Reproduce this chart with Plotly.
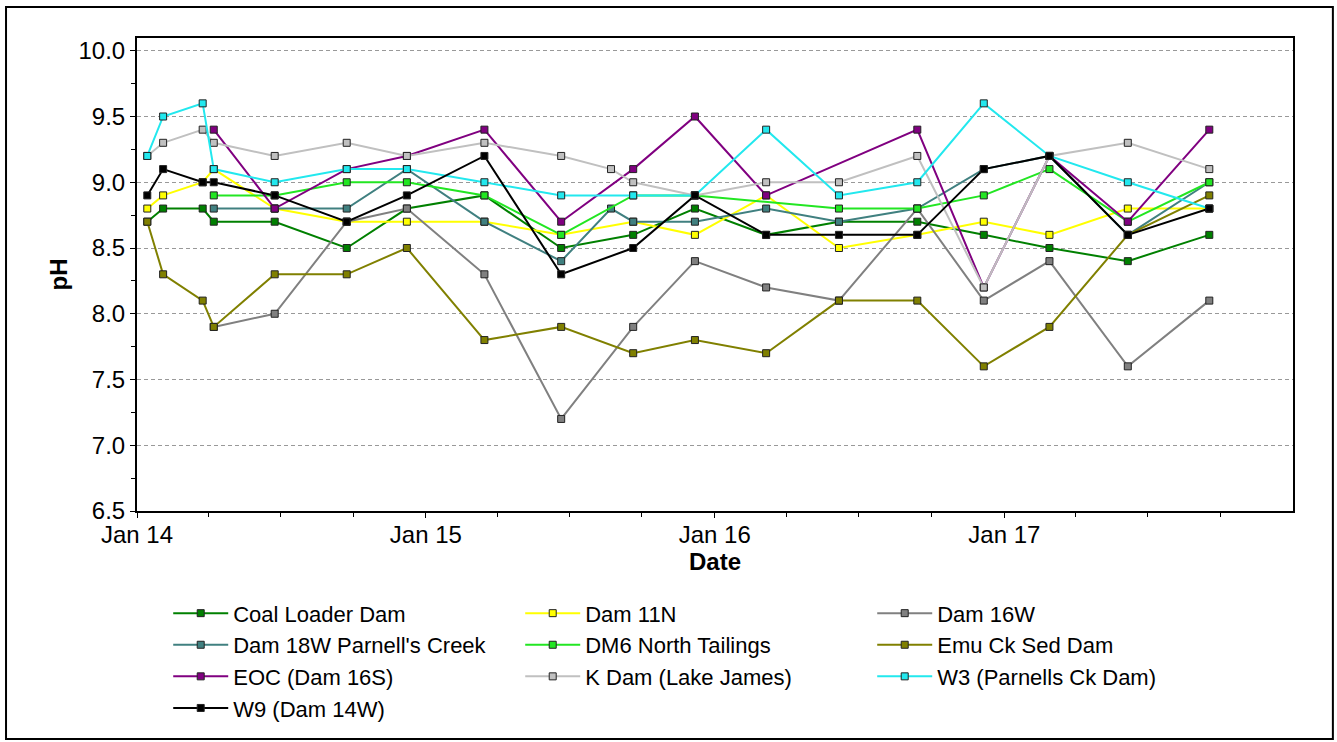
import plotly.graph_objects as go

# Sample dates (shared); None = no sample for that series on that date
dates = ['2014-01-14', '2014-02-03', '2014-03-25', '2014-04-08', '2014-06-24',
         '2014-09-23', '2014-12-08', '2015-03-16', '2015-06-21', '2015-08-23',
         '2015-09-20', '2015-12-07', '2016-03-06', '2016-06-06', '2016-09-13',
         '2016-12-06', '2017-02-27', '2017-06-06', '2017-09-17']

coal_loader = [8.7, 8.8, 8.8, 8.7, 8.7, 8.5, 8.8, 8.9, 8.5, None, 8.6, 8.8, 8.6, 8.7, 8.7, 8.6, 8.5, 8.4, 8.6]
dam_11n = [8.8, 8.9, 9.0, 9.1, 8.8, 8.7, 8.7, 8.7, 8.6, None, 8.7, 8.6, 8.9, 8.5, 8.6, 8.7, 8.6, 8.8, 8.8]
dam_16w = [None, None, None, 7.9, 8.0, 8.7, 8.8, 8.3, 7.2, None, 7.9, 8.4, 8.2, 8.1, 8.8, 8.1, 8.4, 7.6, 8.1]
dam_18w = [None, None, None, 8.8, 8.8, 8.8, 9.1, 8.7, 8.4, 8.8, 8.7, 8.7, 8.8, 8.7, 8.8, 9.1, 9.2, 8.6, 9.0]
dm6 = [None, None, None, 8.9, 8.9, 9.0, 9.0, 8.9, 8.6, None, 8.9, 8.9, None, 8.8, 8.8, 8.9, 9.1, 8.7, 9.0]
emu_ck = [8.7, 8.3, 8.1, 7.9, 8.3, 8.3, 8.5, 7.8, 7.9, None, 7.7, 7.8, 7.7, 8.1, 8.1, 7.6, 7.9, 8.6, 8.9]
eoc = [None, None, None, 9.4, 8.8, 9.1, 9.2, 9.4, 8.7, None, 9.1, 9.5, 8.9, None, 9.4, 8.2, 9.2, 8.7, 9.4]
k_dam = [9.2, 9.3, 9.4, 9.3, 9.2, 9.3, 9.2, 9.3, 9.2, 9.1, 9.0, 8.9, 9.0, 9.0, 9.2, 8.2, 9.2, 9.3, 9.1]
w3 = [9.2, 9.5, 9.6, 9.1, 9.0, 9.1, 9.1, 9.0, 8.9, None, 8.9, 8.9, 9.4, 8.9, 9.0, 9.6, 9.2, 9.0, 8.8]
w9 = [8.9, 9.1, 9.0, 9.0, 8.9, 8.7, 8.9, 9.2, 8.3, None, 8.5, 8.9, 8.6, 8.6, 8.6, 9.1, 9.2, 8.6, 8.8]

series_names = ['Coal Loader Dam', 'Dam 11N', 'Dam 16W', "Dam 18W Parnell's Creek",
                'DM6 North Tailings', 'Emu Ck Sed Dam', 'EOC (Dam 16S)',
                'K Dam (Lake James)', 'W3 (Parnells Ck Dam)', 'W9 (Dam 14W)']
series_values = [coal_loader, dam_11n, dam_16w, dam_18w, dm6, emu_ck, eoc, k_dam, w3, w9]
series_colors = ['#008000', '#FFFF00', '#808080', '#408080', '#22E622',
                 '#808000', '#800080', '#C0C0C0', '#22E8EE', '#000000']
year_ticks = ['2014-01-01', '2015-01-01', '2016-01-01', '2017-01-01']

FONT = 'Arial, Liberation Sans, sans-serif'

fig = go.Figure()
for name, vals, col in zip(series_names, series_values, series_colors):
    fig.add_trace(go.Scatter(
        x=dates, y=vals, name=name, mode='lines+markers', connectgaps=True,
        line=dict(color=col, width=2),
        marker=dict(symbol='square', size=7, color=col, line=dict(color='#222222', width=1)),
    ))

fig.update_layout(
    width=1337, height=742,
    margin=dict(l=137, r=44, t=38, b=231),
    paper_bgcolor='white', plot_bgcolor='white',
    font=dict(family=FONT, size=24, color='black'),
    showlegend=True,
    legend=dict(
        orientation='h', x=0.027, xanchor='left', y=-0.172, yanchor='top',
        entrywidth=282, entrywidthmode='pixels', itemwidth=55,
        font=dict(family=FONT, size=22, color='black'),
        bgcolor='rgba(0,0,0,0)', tracegroupgap=0,
    ),
    shapes=[dict(type='rect', xref='paper', yref='paper',
                 x0=-0.1133, x1=1.0345, y0=-0.482, y1=1.0655,
                 line=dict(color='black', width=2), fillcolor='rgba(0,0,0,0)', layer='below')],
)

fig.update_xaxes(
    type='date', range=['2014-01-01', '2017-12-31 18:00'],
    tickvals=year_ticks, tickformat='%b %y',
    ticks='outside', ticklen=5, tickcolor='black', tickwidth=1,
    ticklabelstandoff=-4,
    minor=dict(dtick='M3', tick0='2014-01-01', ticks='outside', ticklen=4, tickcolor='black', showgrid=False),
    showgrid=False, zeroline=False,
    showline=True, linecolor='black', linewidth=2, mirror=True,
    title=dict(text='<b>Date</b>', font=dict(family=FONT, size=24), standoff=6),
    tickfont=dict(family=FONT, size=24),
)
fig.update_yaxes(
    range=[6.5, 10.097], dtick=0.5, tick0=6.5, tickformat='.1f',
    ticks='outside', ticklen=5, tickcolor='black', tickwidth=1,
    minor=dict(dtick=0.25, ticks='outside', ticklen=4, tickcolor='black', showgrid=False),
    showgrid=True, gridcolor='#999999', gridwidth=1, griddash='4px,3px',
    zeroline=False,
    showline=True, linecolor='black', linewidth=2, mirror=True,
    title=dict(text='<b>pH</b>', font=dict(family=FONT, size=24), standoff=4),
    tickfont=dict(family=FONT, size=24),
)

fig.write_html('out.html', config={'displayModeBar': False},
               post_script="document.body.style.margin='0px';document.body.style.overflow='hidden';")
